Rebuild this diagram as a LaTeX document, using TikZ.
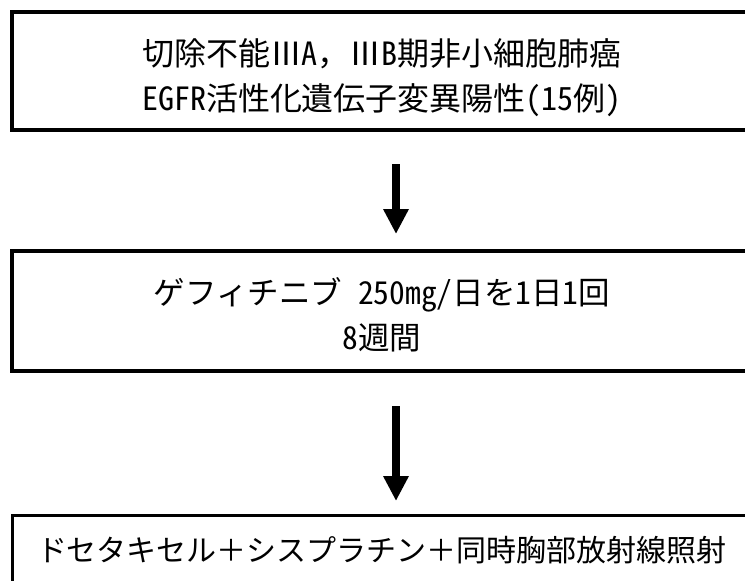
\documentclass[tikz,border=0pt]{standalone}
\usepackage{fontspec}
\newfontfamily\jp{Noto Sans CJK JP}
\newfontfamily\jph[RawFeature=+hwid]{Noto Sans CJK JP}
\newcommand{\hw}[1]{{\jph #1}}
\usetikzlibrary{arrows.meta}
\begin{document}
\begin{tikzpicture}[x=1pt,y=-1pt,
  boxframe/.style={draw=black, rectangle, inner sep=0pt, outer sep=0pt, anchor=north west},
  txt/.style={font=\jp\fontsize{32}{45}\selectfont, align=center, inner sep=0pt},
  bigarrow/.style={line width=8pt, -{Triangle[width=24pt,length=25pt]}}]
\useasboundingbox[fill=white] (0,0) rectangle (745,581);
\coordinate (ax) at (396,0);
\node[boxframe, line width=4pt, minimum width=800pt, minimum height=118pt] (b1) at (12,12) {};
\node[boxframe, line width=4pt, minimum width=800pt, minimum height=120pt] (b2) at (12,251) {};
\node[boxframe, line width=3pt, minimum width=800pt, minimum height=100pt] (b3) at (12,515) {};
\node[txt] (t1) at (382,77.5) {切除不能Ⅲ\hw{A}，Ⅲ\hw{B}期非小細胞肺癌\\\hw{EGFR}活性化遺伝子変異陽性\hw{(15}例\hw{)}};
\node[txt, font=\jp\fontsize{31.5}{45}\selectfont] (t2) at (382,314.5) {ゲフィチニブ\hspace{0.5em}\hw{250mg/}日を\hw{1}日\hw{1}回\\\hw{8}週間};
\node[txt, font=\jp\fontsize{30}{40}\selectfont] (t3) at (382,550) {ドセタキセル＋シスプラチン＋同時胸部放射線照射};
\draw[bigarrow] ([yshift=-34pt]b1.south -| ax) -- ([yshift=17pt]b2.north -| ax);
\draw[bigarrow] ([yshift=-35pt]b2.south -| ax) -- ([yshift=14pt]b3.north -| ax);
\end{tikzpicture}
\end{document}
